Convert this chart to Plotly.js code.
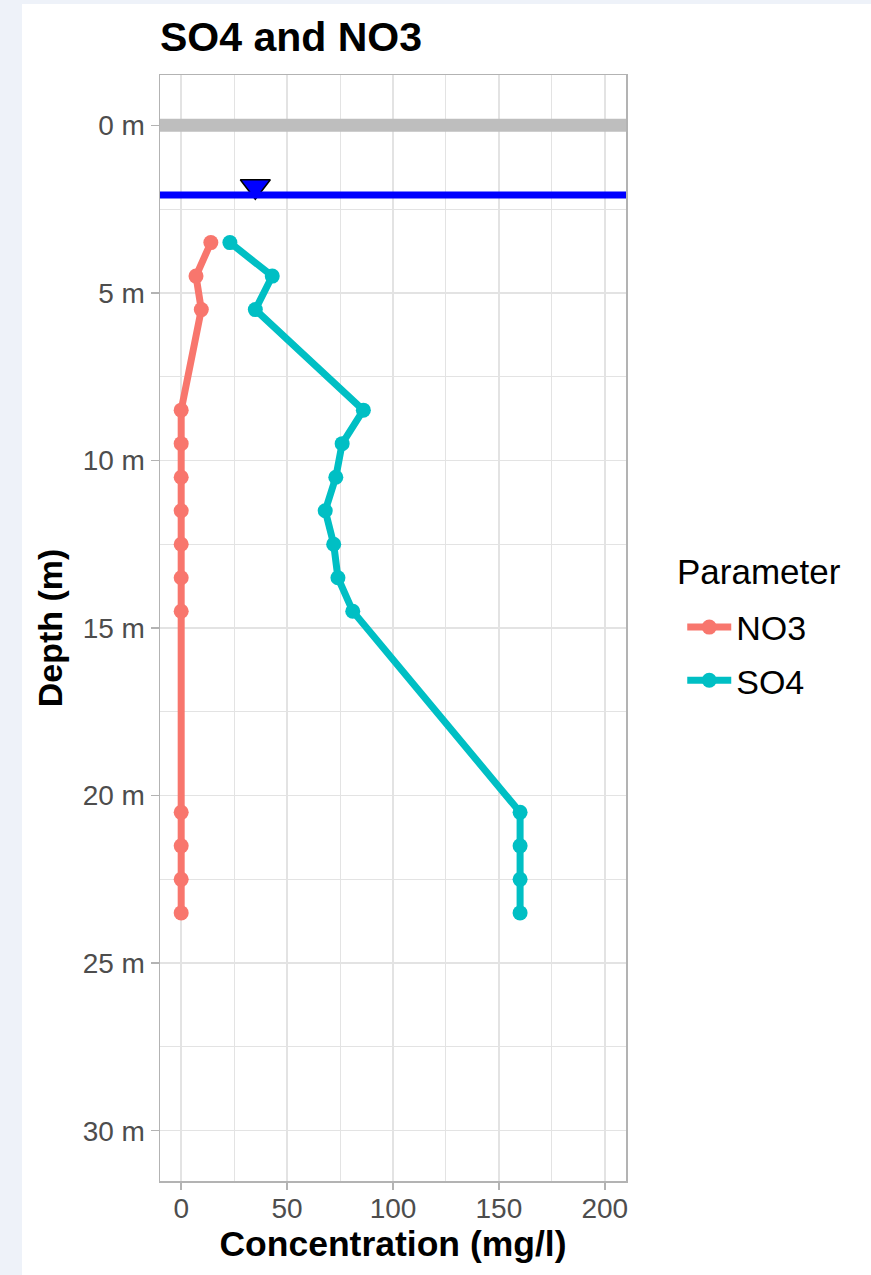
<!DOCTYPE html>
<html><head><meta charset="utf-8">
<script src="https://cdn.plot.ly/plotly-3.0.1.min.js"></script>
<style>
html,body{margin:0;padding:0;background:#eef2f9;width:871px;height:1275px;overflow:hidden}
#chart{position:absolute;left:22px;top:4px;width:849px;height:1271px;background:#fff}
</style></head><body><div id="chart"></div>
<script>
// Depth (m) of each sample
const depths = [3.5, 4.5, 5.5, 8.5, 9.5, 10.5, 11.5, 12.5, 13.5, 14.5, 20.5, 21.5, 22.5, 23.5];
// Concentrations (mg/l)
const no3 = [14, 7, 9.5, 0, 0, 0, 0, 0, 0, 0, 0, 0, 0, 0];
const so4 = [23, 43, 35, 86, 76, 73, 68, 72, 74, 81, 160, 160, 160, 160];
const seriesNames = ['NO3', 'SO4'];
const seriesColors = ['#F8766D', '#00BFC4'];
const legendTitle = 'Parameter';
// Reference levels
const groundLevel = 0;
const waterLevel = 2.08;
const waterMarkerX = [35];
const waterMarkerY = [1.82];
// Ticks
const xTicks = [0, 50, 100, 150, 200];
const xMinor = [25, 75, 125, 175];
const yTicks = [0, 5, 10, 15, 20, 25, 30];
const yMinor = [2.5, 7.5, 12.5, 17.5, 22.5, 27.5];
const yTickLabels = yTicks.map(v => v + ' m');

const FONT = '"Liberation Sans", Arial, Helvetica, sans-serif';
const GRID = '#e3e3e3';
const BORDER = '#b3b3b3';

const traces = [
  {x: no3, y: depths, name: seriesNames[0], mode: 'lines+markers', type: 'scatter',
   line: {color: seriesColors[0], width: 7}, marker: {color: seriesColors[0], size: 15}, legendgroup: 'a'},
  {x: so4, y: depths, name: seriesNames[1], mode: 'lines+markers', type: 'scatter',
   line: {color: seriesColors[1], width: 7}, marker: {color: seriesColors[1], size: 15}, legendgroup: 'b'},
  {x: waterMarkerX, y: waterMarkerY, mode: 'markers', type: 'scatter', showlegend: false, hoverinfo: 'skip',
   marker: {symbol: 'triangle-down', size: 26, color: '#0000FF', line: {color: '#000000', width: 1.5}}}
];

const layout = {
  width: 849, height: 1271,
  margin: {l: 138, r: 245, t: 71, b: 94},
  paper_bgcolor: '#ffffff', plot_bgcolor: '#ffffff',
  font: {family: FONT, color: '#000000'},
  title: {text: 'SO4 and NO3', font: {size: 41, weight: 'bold', color: '#000000', family: FONT},
          xref: 'paper', x: 0, xanchor: 'left', yref: 'container', y: 1 - 33/1271, yanchor: 'middle'},
  xaxis: {range: [-10, 210], tickmode: 'array', tickvals: xTicks, ticktext: xTicks.map(String),
          showgrid: true, gridcolor: GRID, gridwidth: 1.5, zeroline: false,
          minor: {tickmode: 'array', tickvals: xMinor, showgrid: true, gridcolor: GRID, gridwidth: 1, ticks: ''},
          showline: true, mirror: true, linecolor: BORDER, linewidth: 1.5,
          ticks: 'outside', ticklen: 7, tickwidth: 1.5, tickcolor: BORDER, ticklabelstandoff: -5,
          tickfont: {size: 28, color: '#4d4d4d', family: FONT},
          title: {text: 'Concentration (mg/l)', font: {size: 35.5, weight: 'bold', color: '#000000', family: FONT}, standoff: 4},
          automargin: false},
  yaxis: {range: [31.5, -1.5], tickmode: 'array', tickvals: yTicks, ticktext: yTickLabels,
          showgrid: true, gridcolor: GRID, gridwidth: 1.5, zeroline: false,
          minor: {tickmode: 'array', tickvals: yMinor, showgrid: true, gridcolor: GRID, gridwidth: 1, ticks: ''},
          showline: true, mirror: true, linecolor: BORDER, linewidth: 1.5,
          ticks: 'outside', ticklen: 8, tickwidth: 1.5, tickcolor: BORDER,
          tickfont: {size: 28, color: '#4d4d4d', family: FONT},
          title: {text: 'Depth (m)', font: {size: 34, weight: 'bold', color: '#000000', family: FONT}, standoff: 10},
          automargin: false},
  shapes: [
    {type: 'line', xref: 'paper', x0: 0, x1: 1, yref: 'y', y0: groundLevel, y1: groundLevel,
     line: {color: '#bebebe', width: 13}, layer: 'above'},
    {type: 'line', xref: 'paper', x0: 0, x1: 1, yref: 'y', y0: waterLevel, y1: waterLevel,
     line: {color: '#0000FF', width: 7}, layer: 'above'}
  ],
  annotations: [
    {text: legendTitle, xref: 'paper', yref: 'paper', x: 1.1052, y: 0.5515, xanchor: 'left', yanchor: 'middle',
     showarrow: false, font: {size: 35, color: '#000000', family: FONT}}
  ],
  legend: {x: 1.1207, xanchor: 'left', y: 0.4765, yanchor: 'middle', traceorder: 'grouped', tracegroupgap: 6,
           font: {size: 34, color: '#000000', family: FONT}, itemwidth: 44,
           bgcolor: 'rgba(0,0,0,0)'},
  showlegend: true
};

Plotly.newPlot('chart', traces, layout, {displayModeBar: false, staticPlot: true});
</script></body></html>
